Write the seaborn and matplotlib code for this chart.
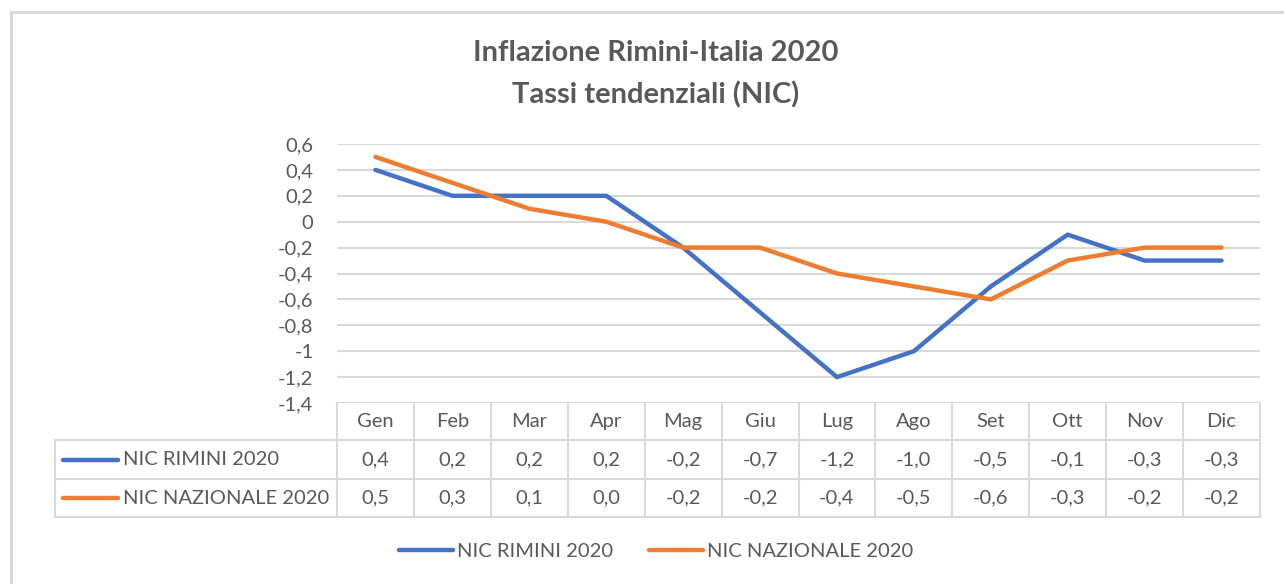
import pandas as pd
import matplotlib.pyplot as plt
import matplotlib.transforms as mtransforms
from matplotlib.lines import Line2D
from matplotlib.patches import Rectangle
import seaborn as sns

# dati
mesi = ["Gen", "Feb", "Mar", "Apr", "Mag", "Giu", "Lug", "Ago", "Set", "Ott", "Nov", "Dic"]
rimini = [0.4, 0.2, 0.2, 0.2, -0.2, -0.7, -1.2, -1.0, -0.5, -0.1, -0.3, -0.3]
nazionale = [0.5, 0.3, 0.1, 0.0, -0.2, -0.2, -0.4, -0.5, -0.6, -0.3, -0.2, -0.2]
serie = ["NIC RIMINI 2020", "NIC NAZIONALE 2020"]
yticks = [0.6, 0.4, 0.2, 0, -0.2, -0.4, -0.6, -0.8, -1, -1.2, -1.4]

colori = {"NIC RIMINI 2020": "#4472C4", "NIC NAZIONALE 2020": "#ED7D31"}
grigio = "#595959"
linea = "#D9D9D9"
fs = 14.5

df = pd.DataFrame({
    "pos": list(range(12)) * 2,
    "valore": rimini + nazionale,
    "serie": [serie[0]] * 12 + [serie[1]] * 12,
})

sns.set_theme(style="white")
plt.rcParams["font.family"] = ["Lato", "DejaVu Sans"]

fig = plt.figure(figsize=(12.84, 5.84), dpi=100)
W, H = 1284, 584
ax = fig.add_axes([337 / W, 1 - 403 / H, 923 / W, 259 / H])

sns.lineplot(data=df, x="pos", y="valore", hue="serie", palette=colori,
             linewidth=3.2, ax=ax, legend=False)

ax.set_xlim(-0.5, 11.5)
ax.set_ylim(-1.4, 0.6)
ax.set_xticks([])
ax.set_yticks(yticks)
ax.set_yticklabels([f"{v:g}".replace(".", ",") for v in yticks], color=grigio, fontsize=fs)
ax.tick_params(axis="y", length=0, pad=17)
for y in yticks:
    ax.axhline(y, color=linea, lw=1.5, zorder=0)
for s in ax.spines.values():
    s.set_visible(False)
ax.set_xlabel("")
ax.set_ylabel("")

# tabella dati
trans = mtransforms.blended_transform_factory(ax.transData, ax.transAxes)
h_head = -37 / 259
h_r1 = -76 / 259
h_r2 = -114 / 259
x_lab = -0.5 - 282 / 923 * 12

kw = dict(color=linea, lw=1.5, transform=trans, clip_on=False)
ax.add_line(Line2D([-0.5, 11.5], [h_head, h_head], **kw))
ax.add_line(Line2D([x_lab, 11.5], [h_head, h_head], **kw))
ax.add_line(Line2D([x_lab, 11.5], [h_r1, h_r1], **kw))
ax.add_line(Line2D([x_lab, 11.5], [h_r2, h_r2], **kw))
ax.add_line(Line2D([x_lab, x_lab], [h_head, h_r2], **kw))
for i in range(13):
    ax.add_line(Line2D([i - 0.5, i - 0.5], [0, h_r2], **kw))

for i, m in enumerate(mesi):
    ax.text(i, h_head / 2, m, transform=trans, ha="center", va="center",
            color=grigio, fontsize=fs)
    ax.text(i, (h_head + h_r1) / 2, f"{rimini[i]:.1f}".replace(".", ","),
            transform=trans, ha="center", va="center", color=grigio, fontsize=fs)
    ax.text(i, (h_r1 + h_r2) / 2, f"{nazionale[i]:.1f}".replace(".", ","),
            transform=trans, ha="center", va="center", color=grigio, fontsize=fs)

for j, (s, yy) in enumerate(zip(serie, [(h_head + h_r1) / 2, (h_r1 + h_r2) / 2])):
    x0 = x_lab + 0.1
    ax.add_line(Line2D([x0, x0 + 0.72], [yy, yy], color=colori[s], lw=3.2,
                       solid_capstyle="round", transform=trans, clip_on=False))
    ax.text(x0 + 0.78, yy, s, transform=trans, ha="left", va="center",
            color=grigio, fontsize=fs)

# titolo
fig.text(656 / W, 1 - 53 / H, "Inflazione Rimini-Italia 2020", ha="center", va="center",
         color=grigio, fontsize=21, fontweight="bold")
fig.text(656 / W, 1 - 95 / H, "Tassi tendenziali (NIC)", ha="center", va="center",
         color=grigio, fontsize=21, fontweight="bold")

# legenda
handles = [Line2D([], [], color=colori[s], lw=3.2, solid_capstyle="round") for s in serie]
leg = fig.legend(handles, serie, loc="center", bbox_to_anchor=(656 / W, 1 - 551 / H),
                 ncol=2, frameon=False, fontsize=fs, handlelength=2.7,
                 handletextpad=0.2, columnspacing=1.75)
for t in leg.get_texts():
    t.set_color(grigio)

# bordo del grafico
fig.add_artist(Rectangle((11 / W, -0.1), 1.2, 1 - 12 / H + 0.1, transform=fig.transFigure,
                         fill=False, edgecolor=linea, lw=2.2))

fig.savefig("out.png", dpi=100)
